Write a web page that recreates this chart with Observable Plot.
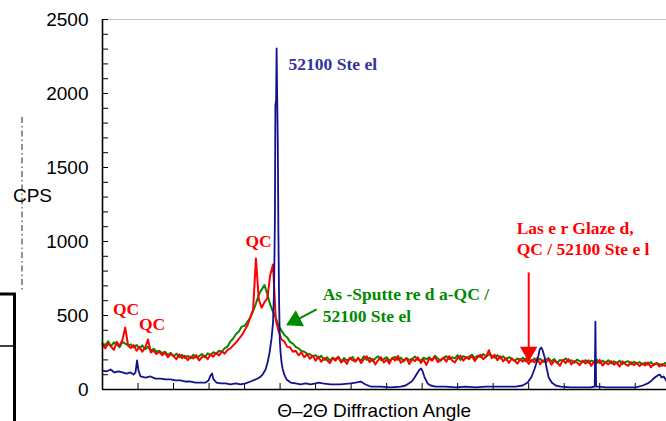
<!DOCTYPE html>
<html><head><meta charset="utf-8">
<script src="https://cdn.jsdelivr.net/npm/d3@7"></script>
<script src="https://cdn.jsdelivr.net/npm/@observablehq/plot@0.6"></script>
<style>
html,body{margin:0;padding:0;background:#fff;overflow:hidden}
#wrap{position:relative;width:666px;height:421px}
#deco{position:absolute;left:0;top:0;pointer-events:none}
</style>
</head><body><div id="wrap"></div>
<script>
// ---- 52100 Steel (blue) : 2-theta (deg) and CPS ----
const blueAngles = [20.0,20.56,21.13,21.69,22.25,22.82,23.38,23.94,24.37,24.65,24.86,25.07,25.35,26.06,26.76,27.46,28.17,28.87,29.58,30.28,30.99,31.69,32.39,33.10,33.80,34.51,34.93,35.21,35.42,35.63,36.06,36.62,37.32,38.03,38.73,39.44,40.14,40.85,41.55,42.11,42.54,42.96,43.24,43.52,43.80,44.01,44.15,44.27,44.34,44.44,44.51,44.59,44.68,44.76,44.86,44.96,45.07,45.21,45.35,45.63,45.92,46.48,47.18,47.89,48.59,49.30,50.0,50.42,50.99,52.11,53.52,54.93,55.63,56.34,57.04,57.75,59.15,60.56,61.97,62.68,63.10,63.52,63.94,64.37,64.65,64.86,65.07,65.35,65.77,66.20,66.90,68.31,69.72,71.13,72.54,73.94,75.35,76.76,78.17,79.15,79.86,80.42,80.85,81.27,81.55,81.76,81.97,82.25,82.54,82.82,83.24,83.80,84.51,85.92,87.32,88.73,89.30,89.39,89.49,89.86,90.85,92.25,93.66,95.07,96.06,96.76,97.32,97.75,98.17,98.45,98.73,99.01,99.44];
const blueCps = [128,122,135,115,122,115,108,115,101,115,196,128,88,81,88,74,74,68,68,61,61,54,54,47,47,47,61,95,108,68,47,41,41,34,41,34,41,54,68,81,101,135,182,250,345,453,669,1142,1919,1953,2304,1987,1662,1074,601,331,250,182,142,95,68,47,41,34,41,34,41,47,41,34,34,41,47,54,34,20,20,14,20,27,41,54,81,115,135,142,122,81,41,27,20,20,14,20,14,20,20,20,20,27,47,88,142,209,270,284,264,216,142,81,47,27,20,14,14,14,20,459,20,20,14,14,14,14,27,41,61,81,95,101,81,88,54];

// ---- Laser glazed (red) and as-sputtered (green): CPS every 0.4 deg from 20 deg ----
const angleStart = 20;
const angleStep = 0.4;
const redCps = [
305,278,312,290,268,322,295,335,418,298,
280,300,262,288,255,282,338,250,262,240,
255,232,248,218,240,225,205,238,212,228,
198,222,210,232,196,218,228,205,236,222,
248,230,258,242,268,278,298,318,342,365,
398,432,488,540,885,610,552,590,615,770,
845,470,392,338,325,288,285,255,262,232,
250,218,238,208,228,195,222,188,212,198,
178,212,195,220,182,200,172,215,198,188,
215,178,205,225,185,208,170,198,218,182,
202,175,215,195,228,180,198,210,172,205,
192,218,180,202,165,210,195,222,185,200,
215,188,225,198,182,212,228,195,218,205,
228,192,218,235,205,222,265,212,235,198,
225,190,212,180,208,195,175,205,188,210,
172,200,185,212,170,198,182,205,168,195,
185,160,200,178,205,170,192,182,165,195,
175,198,160,188,178,200,162,185,170,192,
168,182,155,190,172,160,185,165,178,158,
175,162,182,150,170,178,155,172,160,168];
const greenCps = [
312,300,325,292,318,305,285,322,310,298,
305,285,300,278,298,272,288,262,275,255,
262,245,255,232,248,225,242,218,235,212,
228,210,235,215,225,240,218,245,232,252,
240,262,255,280,290,325,345,375,392,425,
430,458,485,530,580,640,675,705,645,575,
525,485,428,398,368,352,322,310,288,278,
260,255,242,238,225,232,212,228,200,218,
195,215,205,222,190,212,198,205,220,192,
208,196,225,200,215,192,210,225,198,205,
218,195,208,220,200,215,190,212,198,208,
222,200,195,215,205,218,200,228,210,195,
212,225,205,218,210,232,200,225,215,222,
235,212,228,218,240,222,238,228,215,232,
210,225,200,218,212,192,210,198,215,190,
205,188,210,195,208,186,202,212,190,205,
178,200,192,210,188,198,180,202,192,185,
198,180,195,188,202,178,195,182,198,176,
190,178,195,172,186,192,170,188,176,185,
170,182,168,186,165,178,172,160,180,168];

// ---- axes ----
const yTickLabels = [0, 500, 1000, 1500, 2000, 2500];
const yMinorTicks = [0,100,200,300,400,500,600,700,800,900,1000,1100,1200,1300,1400,1500,1600,1700,1800,1900,2000,2100,2200,2300,2400,2500];
const xTicks = [20,25,30,35,40,45,50,55,60,65,70,75,80,85,90,95];
const xTitle = [{x: 58.24, text: "Θ–2Θ Diffraction Angle"}];
const yTitle = [{y: 1311, text: "CPS"}];

// ---- annotations ----
const blueLabels = [{x: 46.2, y: 2196, text: "52100 Ste el"}];
const qcLabels = [{x: 23.31, y: 544, text: "QC"}, {x: 26.97, y: 439, text: "QC"}, {x: 41.97, y: 1003, text: "QC"}];
const greenLabels = [{x: 50.99, y: 642, text: "As -Sputte re d a-QC /"}, {x: 50.99, y: 493, text: "52100 Ste el"}];
const redLabels = [{x: 78.31, y: 1091, text: "Las e r Glaze d,"}, {x: 78.31, y: 946, text: "QC / 52100 Ste e l"}];
const greenArrow = [{x1: 50.14, y1: 541, x2: 47.14, y2: 466, rotate: 243}];
const redArrow = [{x1: 80.0, y1: 791, x2: 80.0, y2: 255, rotate: 180}];

const blue = blueAngles.map((a, i) => ({x: a, y: blueCps[i]}));
const red = redCps.map((v, i) => ({x: angleStart + i * angleStep, y: v}));
const green = greenCps.map((v, i) => ({x: angleStart + i * angleStep, y: v}));

const BLUE = "#12128a", RED = "#ff0000", GREEN = "#008a00";
const serif = "'Liberation Serif', 'Times New Roman', serif";
const sans = "'Liberation Sans', Arial, sans-serif";

const chart = Plot.plot({
  width: 666, height: 421,
  marginLeft: 102, marginRight: 0, marginTop: 19, marginBottom: 32,
  style: {fontFamily: sans, fontSize: "19px", background: "white", color: "black"},
  x: {domain: [20, 99.4], axis: null, label: null},
  y: {domain: [0, 2500], axis: null, label: null},
  marks: [
    Plot.ruleY([2500], {stroke: "#c8c8c8", strokeWidth: 1.2}),
    Plot.axisY(yTickLabels, {tickSize: 0, tickPadding: 14, fontSize: 19, tickFormat: d => String(d), label: null}),
    Plot.axisY(yMinorTicks, {tickSize: 6, dx: 6, tickFormat: () => "", label: null, stroke: "black"}),
    Plot.axisX(xTicks, {tickSize: 6, dy: -6, tickFormat: () => "", label: null, stroke: "black"}),
    Plot.line(green, {x: "x", y: "y", stroke: GREEN, strokeWidth: 2}),
    Plot.line(red, {x: "x", y: "y", stroke: RED, strokeWidth: 2}),
    Plot.line(blue, {x: "x", y: "y", stroke: BLUE, strokeWidth: 1.8}),
    Plot.ruleX([20], {stroke: "black", strokeWidth: 1.6}),
    Plot.ruleY([0], {stroke: "black", strokeWidth: 1.6}),
    Plot.text(xTitle, {x: "x", text: "text", frameAnchor: "bottom", dy: 27, fontSize: 19, fill: "black"}),
    Plot.text(yTitle, {y: "y", text: "text", frameAnchor: "left", dx: -70, textAnchor: "middle", fontSize: 19, fill: "black"}),
    Plot.text(blueLabels, {x: "x", y: "y", text: "text", textAnchor: "start", fill: "#333399", fontFamily: serif, fontWeight: "bold", fontSize: 17.5}),
    Plot.text(qcLabels, {x: "x", y: "y", text: "text", textAnchor: "middle", fill: RED, fontFamily: serif, fontWeight: "bold", fontSize: 17.5}),
    Plot.text(greenLabels, {x: "x", y: "y", text: "text", textAnchor: "start", fill: GREEN, fontFamily: serif, fontWeight: "bold", fontSize: 17.5}),
    Plot.text(redLabels, {x: "x", y: "y", text: "text", textAnchor: "start", fill: RED, fontFamily: serif, fontWeight: "bold", fontSize: 17.5}),
    Plot.link(greenArrow, {x1: "x1", y1: "y1", x2: "x2", y2: "y2", stroke: GREEN, strokeWidth: 2}),
    Plot.dot(greenArrow, {x: "x2", y: "y2", symbol: "triangle", r: 6.7, fill: GREEN, stroke: null, rotate: "rotate"}),
    Plot.link(redArrow, {x1: "x1", y1: "y1", x2: "x2", y2: "y2", stroke: RED, strokeWidth: 2}),
    Plot.dot(redArrow, {x: "x2", y: "y2", symbol: "triangle", r: 6.5, fill: RED, stroke: null, rotate: "rotate"})
  ]
});
const wrap = document.getElementById("wrap");
wrap.appendChild(chart);

// page artefacts outside the chart (cropped frame and dashed guide at far left)
const ns = "http://www.w3.org/2000/svg";
const deco = document.createElementNS(ns, "svg");
deco.setAttribute("id", "deco");
deco.setAttribute("width", 666);
deco.setAttribute("height", 421);
const decoLines = [
  {x1: 22, y1: 117, x2: 22, y2: 290, w: 1, dash: "6,3,1.5,3", c: "#222"},
  {x1: 0, y1: 294, x2: 16, y2: 294, w: 3, dash: null, c: "#000"},
  {x1: 14.5, y1: 294, x2: 14.5, y2: 421, w: 3, dash: null, c: "#000"},
  {x1: 0, y1: 346, x2: 13, y2: 346, w: 1.5, dash: null, c: "#000"}
];
for (const l of decoLines) {
  const e = document.createElementNS(ns, "line");
  for (const k of ["x1","y1","x2","y2"]) e.setAttribute(k, l[k]);
  e.setAttribute("stroke", l.c);
  e.setAttribute("stroke-width", l.w);
  if (l.dash) e.setAttribute("stroke-dasharray", l.dash);
  deco.appendChild(e);
}
wrap.appendChild(deco);
</script></body></html>
